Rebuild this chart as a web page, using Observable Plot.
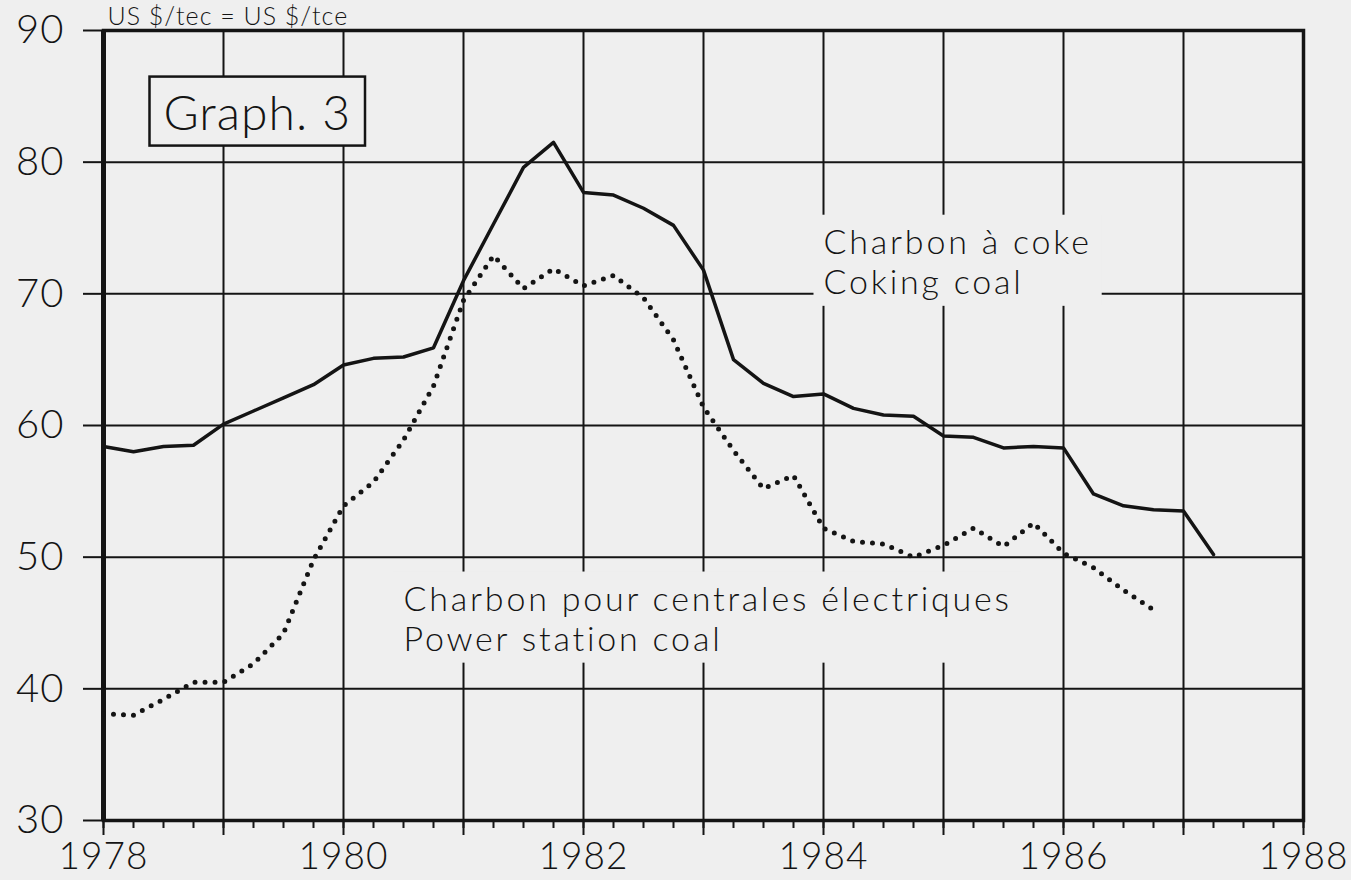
<!DOCTYPE html>
<html>
<head>
<meta charset="utf-8">
<script src="https://cdn.jsdelivr.net/npm/d3@7"></script>
<script src="https://cdn.jsdelivr.net/npm/@observablehq/plot@0.6"></script>
<style>
  html, body { margin: 0; padding: 0; background: #efefef; }
  #chart svg { display: block; }
  #chart svg text { letter-spacing: 1px; }
  #chart svg text.spaced { letter-spacing: 2.8px; }
</style>
</head>
<body>
<div id="chart"></div>
<script>
// ---- Data (quarterly, US $/tce) ----
const cokingQuarters = [
  1978, 1978.25, 1978.5, 1978.75,
  1979, 1979.25, 1979.5, 1979.75,
  1980, 1980.25, 1980.5, 1980.75,
  1981, 1981.25, 1981.5, 1981.75,
  1982, 1982.25, 1982.5, 1982.75,
  1983, 1983.25, 1983.5, 1983.75,
  1984, 1984.25, 1984.5, 1984.75,
  1985, 1985.25, 1985.5, 1985.75,
  1986, 1986.25, 1986.5, 1986.75,
  1987, 1987.25
];
const cokingCoal = [
  58.4, 58.0, 58.4, 58.5,
  60.1, 61.1, 62.1, 63.1,
  64.6, 65.1, 65.2, 65.9,
  71.0, 75.3, 79.6, 81.5,
  77.7, 77.5, 76.5, 75.2,
  71.8, 65.0, 63.2, 62.2,
  62.4, 61.3, 60.8, 60.7,
  59.2, 59.1, 58.3, 58.4,
  58.3, 54.8, 53.9, 53.6,
  53.5, 50.2
];
const powerQuarters = [
  1978, 1978.25, 1978.5, 1978.75,
  1979, 1979.25, 1979.5, 1979.75,
  1980, 1980.25, 1980.5, 1980.75,
  1981, 1981.25, 1981.5, 1981.75,
  1982, 1982.25, 1982.5, 1982.75,
  1983, 1983.25, 1983.5, 1983.75,
  1984, 1984.25, 1984.5, 1984.75,
  1985, 1985.25, 1985.5, 1985.75,
  1986, 1986.25, 1986.5, 1986.75
];
const powerStationCoal = [
  38.1, 38.0, 39.2, 40.5,
  40.5, 41.9, 44.2, 49.8,
  53.9, 55.7, 58.9, 63.0,
  69.5, 72.9, 70.4, 71.9,
  70.6, 71.4, 69.7, 66.5,
  61.4, 58.1, 55.2, 56.2,
  52.2, 51.2, 51.0, 50.0,
  50.9, 52.2, 50.8, 52.6,
  50.3, 49.2, 47.5, 46.0
];

// ---- Axes / ticks ----
const yTicks = [30, 40, 50, 60, 70, 80, 90];
const xYears = [1978, 1979, 1980, 1981, 1982, 1983, 1984, 1985, 1986, 1987, 1988];
const xTickLabels = [1978, 1980, 1982, 1984, 1986, 1988];
const xQuarterTicks = d3.range(1978, 1988.001, 0.25);

// ---- Text ----
const unitLabel = "US $/tec = US $/tce";
const graphTitle = "Graph. 3";
const seriesLabels = [
  {x: 1984, y: 70, text: "Charbon à coke\nCoking coal"},
  {x: 1980.5, y: 42.9, text: "Charbon pour centrales électriques\nPower station coal"}
];

const coking = cokingQuarters.map((t, i) => ({t, v: cokingCoal[i]}));
const power = powerQuarters.map((t, i) => ({t, v: powerStationCoal[i]}));

const BG = "#efefef";
const INK = "#141414";
const FONT = "Lato, 'Open Sans', sans-serif";

const chart = Plot.plot({
  width: 1351,
  height: 880,
  marginLeft: 103,
  marginRight: 48,
  marginTop: 30,
  marginBottom: 60,
  style: {background: BG, fontFamily: FONT, fontWeight: 300, color: INK, overflow: "visible"},
  x: {domain: [1978, 1988], axis: null},
  y: {domain: [30, 90], axis: null},
  marks: [
    Plot.gridY(yTicks, {stroke: INK, strokeOpacity: 1, strokeWidth: 2}),
    Plot.gridX(xYears, {stroke: INK, strokeOpacity: 1, strokeWidth: 2}),
    Plot.text(seriesLabels, {
      x: "x", y: "y", text: "text",
      textAnchor: "start", lineAnchor: "bottom", lineHeight: 1.18,
      fontSize: 34, fill: INK
    }),
    Plot.text([graphTitle], {
      frameAnchor: "top-left", textAnchor: "start", lineAnchor: "top",
      dx: 60, dy: 65, fontSize: 48, fill: INK
    }),
    Plot.text([unitLabel], {
      frameAnchor: "top-left", textAnchor: "start", lineAnchor: "bottom",
      dx: 4, dy: -6, fontSize: 25, fill: INK
    }),
    Plot.axisY(yTicks, {
      tickSize: 20, tickPadding: 19, fontSize: 40, strokeWidth: 2,
      tickFormat: d => String(d), label: null
    }),
    Plot.axisX(xQuarterTicks, {
      tickSize: 8, strokeWidth: 2, text: null, label: null
    }),
    Plot.axisX(xYears, {
      tickSize: 15, strokeWidth: 2, text: null, label: null
    }),
    Plot.axisX(xTickLabels, {
      tickSize: 0, tickPadding: 22, fontSize: 37,
      tickFormat: d => String(d), label: null
    }),
    Plot.frame({stroke: INK, strokeWidth: 3.5}),
    Plot.ruleX([1978], {stroke: INK, strokeWidth: 5}),
    Plot.lineY(power, {
      x: "t", y: "v", stroke: INK, strokeWidth: 5,
      strokeDasharray: "0 10", strokeLinecap: "round"
    }),
    Plot.lineY(coking, {
      x: "t", y: "v", stroke: INK, strokeWidth: 3.5, strokeLinejoin: "round"
    })
  ]
});

document.getElementById("chart").append(chart);

// Mask gridlines behind the annotation texts (and frame the title)
const labelTexts = seriesLabels.map(d => d.text.replace(/\n/g, ""));
function backdrop(match, padX, padY, stroke, spaced) {
  chart.querySelectorAll("text").forEach(t => {
    if (!match(t.textContent)) return;
    if (spaced) t.classList.add("spaced");
    const b = t.getBBox();
    const r = document.createElementNS("http://www.w3.org/2000/svg", "rect");
    r.setAttribute("x", b.x - padX);
    r.setAttribute("y", b.y - padY);
    r.setAttribute("width", b.width + 2 * padX);
    r.setAttribute("height", b.height + 2 * padY);
    r.setAttribute("fill", BG);
    if (stroke) { r.setAttribute("stroke", INK); r.setAttribute("stroke-width", 2.5); }
    const tr = t.getAttribute("transform");
    if (tr) r.setAttribute("transform", tr);
    t.parentNode.insertBefore(r, t);
  });
}
backdrop(s => labelTexts.includes(s), 10, 5, false, true);
backdrop(s => s === graphTitle, 14, 6, true, false);
</script>
</body>
</html>
